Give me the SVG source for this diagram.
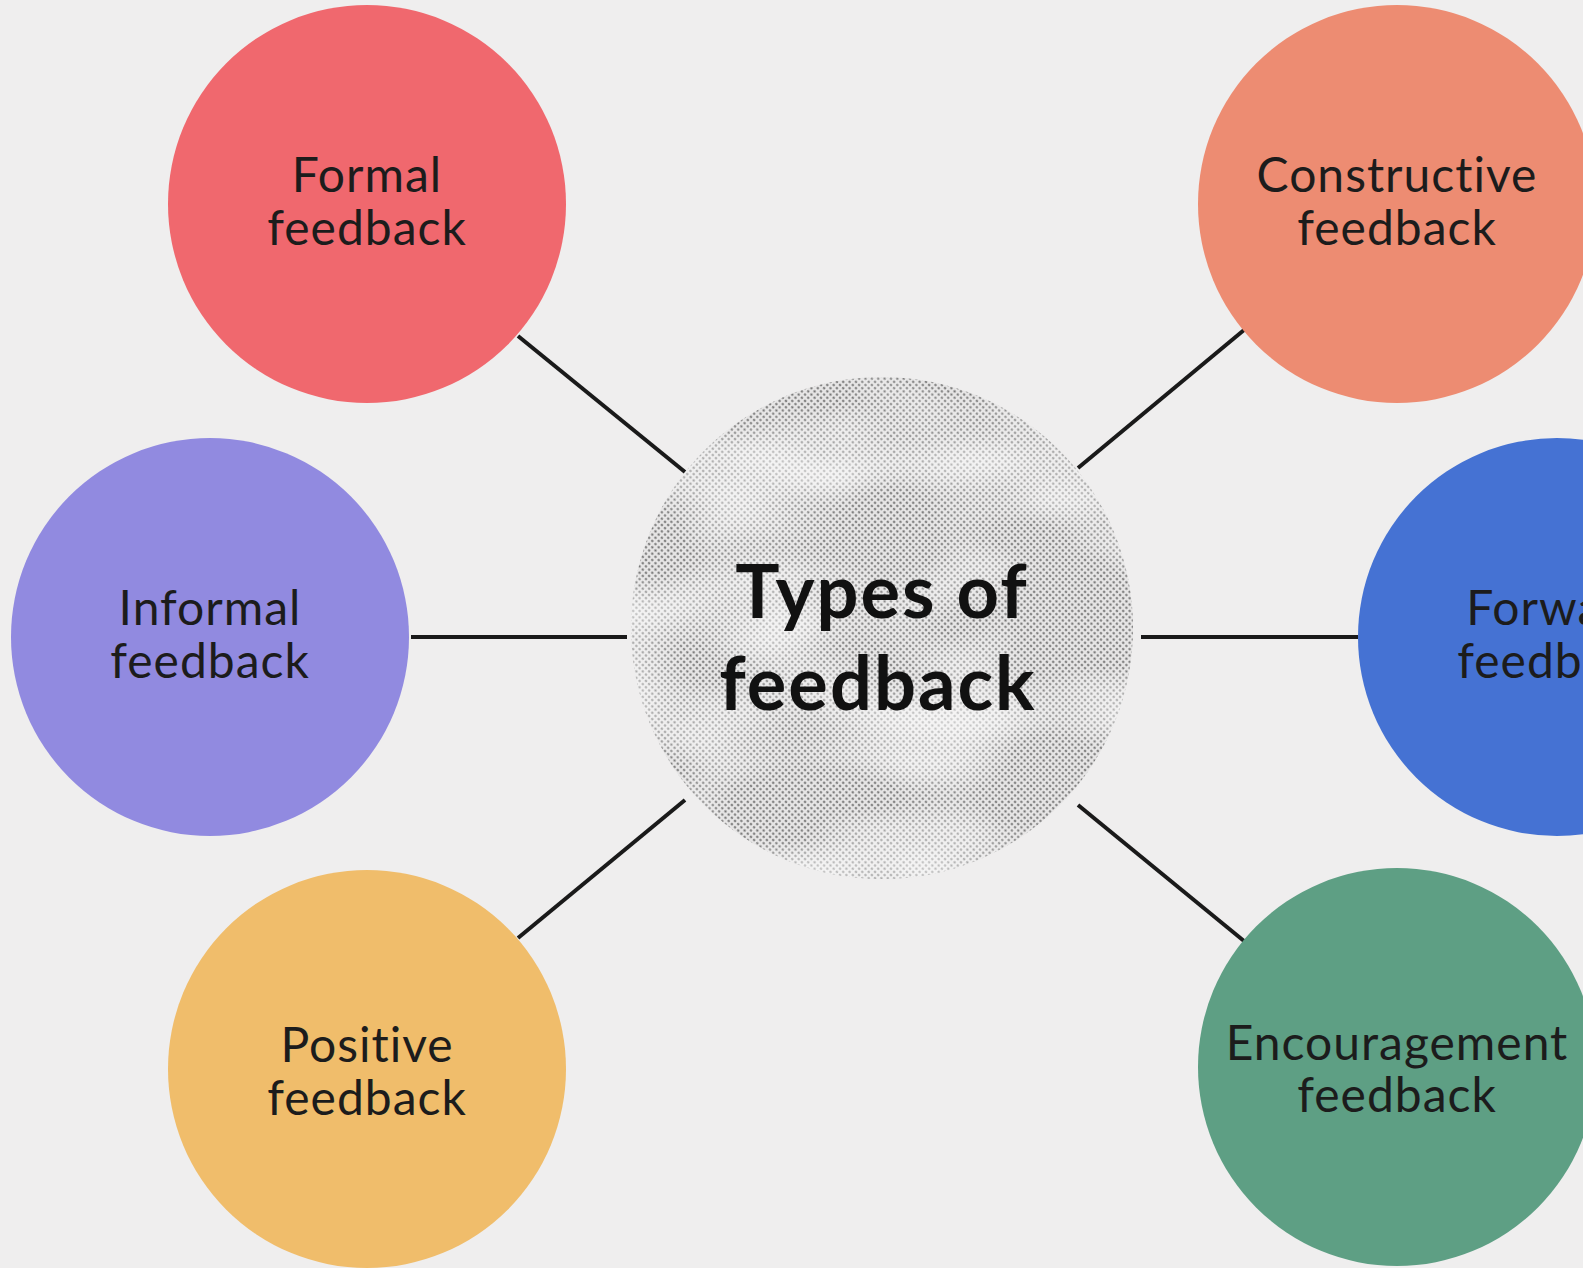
<svg xmlns="http://www.w3.org/2000/svg" width="1583" height="1268" viewBox="0 0 1583 1268">
  <defs>
    <style>
      text { font-variant-ligatures: none; }
      .label { font-family: "Lato", "Liberation Sans", sans-serif; font-size: 48px; letter-spacing: 1px; fill: #1c1c1c; text-anchor: middle; }
      .title { font-family: "Lato", "Liberation Sans", sans-serif; font-size: 74px; font-weight: 700; letter-spacing: 2px; fill: #111; text-anchor: middle; }
      .link { stroke: #1a1a1a; stroke-width: 4; stroke-linecap: butt; }
    </style>
    <!-- halftone dot screen for the hub -->
    <pattern id="dots" width="4.5" height="4.5" patternUnits="userSpaceOnUse" patternTransform="rotate(45)">
      <circle cx="2.25" cy="2.25" r="1.2" fill="#555"/>
    </pattern>
    <filter id="mottle" x="0" y="0" width="100%" height="100%">
      <feTurbulence type="fractalNoise" baseFrequency="0.006 0.012" numOctaves="2" seed="7"/>
      <feColorMatrix type="matrix" values="0 0 0 0 1  0 0 0 0 1  0 0 0 0 1  0 0 0 -2.2 1.35"/>
    </filter>
    <clipPath id="hubClip">
      <circle cx="882" cy="628" r="251"/>
    </clipPath>
  </defs>

  <rect width="1583" height="1268" fill="#efeeee"/>

  <!-- connectors between hub and topics -->
  <g id="connectors">
    <line class="link" x1="518" y1="336" x2="685" y2="472"/>
    <line class="link" x1="1244" y1="330" x2="1078" y2="468"/>
    <line class="link" x1="411" y1="637" x2="627" y2="637"/>
    <line class="link" x1="1141" y1="637" x2="1358" y2="637"/>
    <line class="link" x1="518" y1="938" x2="685" y2="800"/>
    <line class="link" x1="1078" y1="805" x2="1244" y2="941"/>
  </g>

  <!-- hub -->
  <g id="hub">
    <g clip-path="url(#hubClip)">
      <rect x="620" y="370" width="530" height="520" fill="#e6e5e5"/>
      <rect x="620" y="370" width="530" height="520" fill="url(#dots)" opacity="0.8"/>
      <rect x="620" y="370" width="530" height="520" filter="url(#mottle)" opacity="0.7"/>
    </g>
    <text class="title" x="882" y="618">Types of</text>
    <text class="title" x="878" y="710">feedback</text>
  </g>

  <g id="formal">
    <circle cx="367" cy="204" r="199" fill="#f0686e"/>
    <text class="label" x="367" y="192">Formal</text>
    <text class="label" x="367" y="245">feedback</text>
  </g>

  <g id="constructive">
    <circle cx="1397" cy="204" r="199" fill="#ed8c72"/>
    <text class="label" x="1397" y="192">Constructive</text>
    <text class="label" x="1397" y="245">feedback</text>
  </g>

  <g id="informal">
    <circle cx="210" cy="637" r="199" fill="#918ae0"/>
    <text class="label" x="210" y="625">Informal</text>
    <text class="label" x="210" y="678">feedback</text>
  </g>

  <g id="forward">
    <circle cx="1557" cy="637" r="199" fill="#4572d3"/>
    <text class="label" x="1557" y="625">Forward</text>
    <text class="label" x="1557" y="678">feedback</text>
  </g>

  <g id="positive">
    <circle cx="367" cy="1069" r="199" fill="#f0bd6b"/>
    <text class="label" x="367" y="1062">Positive</text>
    <text class="label" x="367" y="1115">feedback</text>
  </g>

  <g id="encouragement">
    <circle cx="1397" cy="1067" r="199" fill="#5e9f84"/>
    <text class="label" x="1397" y="1060">Encouragement</text>
    <text class="label" x="1397" y="1112">feedback</text>
  </g>
</svg>
